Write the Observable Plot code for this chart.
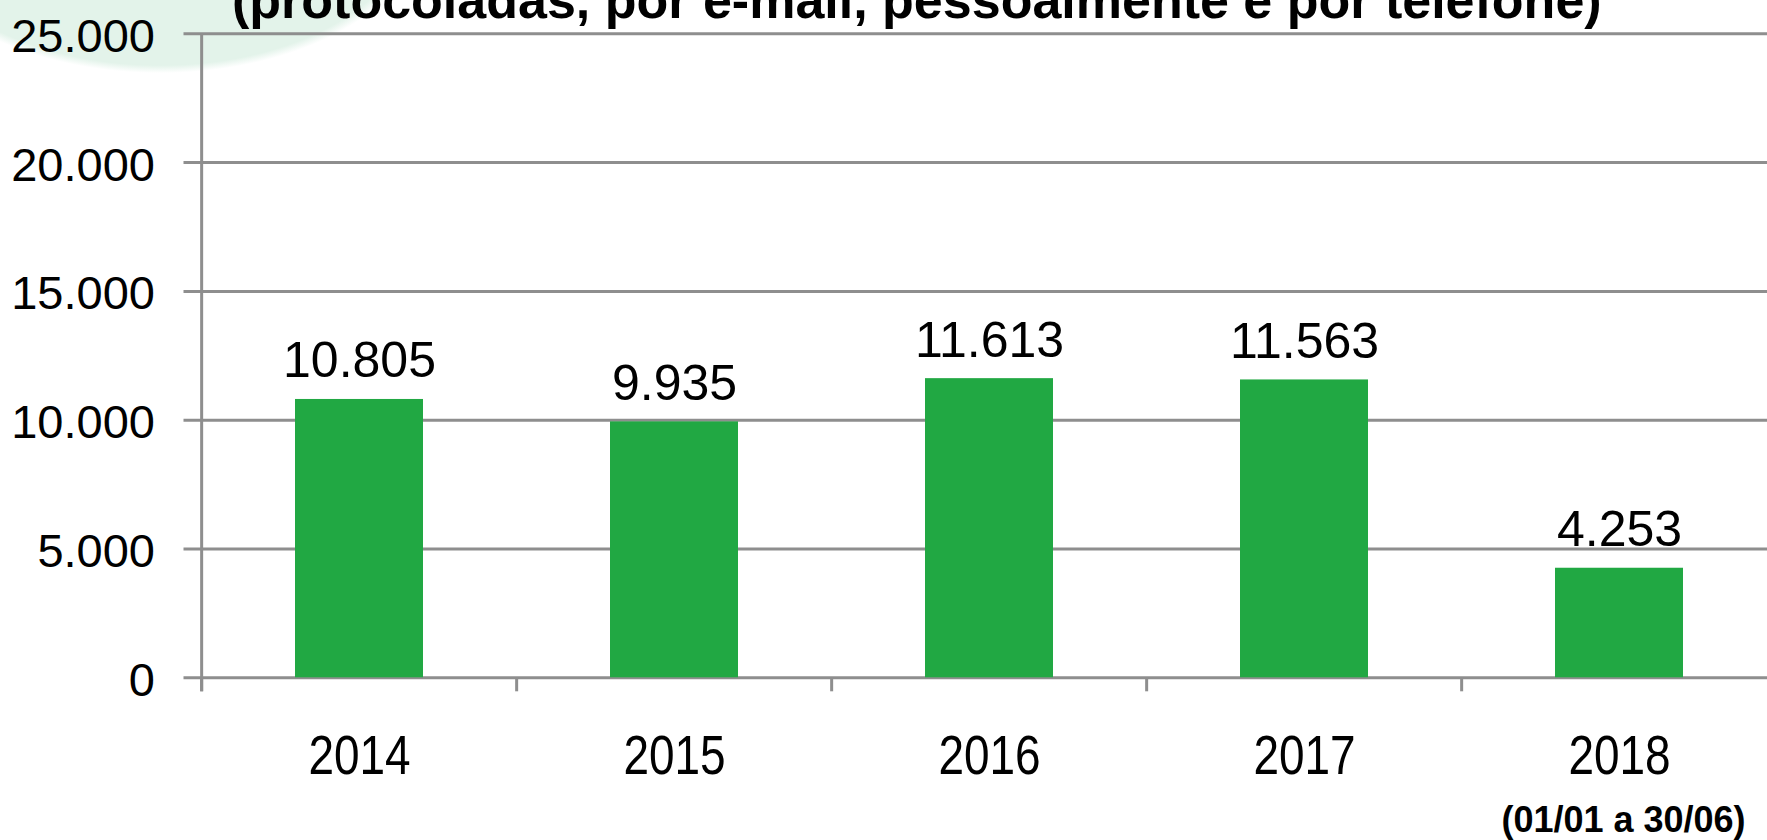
<!DOCTYPE html>
<html><head><meta charset="utf-8">
<script src="https://cdn.jsdelivr.net/npm/d3@7"></script>
<script src="https://cdn.jsdelivr.net/npm/@observablehq/plot@0.6"></script>
<style>
html,body{margin:0;padding:0;background:#fff;overflow:hidden;}
#chart{position:relative;width:1767px;height:840px;overflow:hidden;
 background: radial-gradient(265px 155px at 160px -82px, #e3f3ea 0%, #e3f3ea 95%, rgba(227,243,234,0) 100%), #fff;}
#chart svg{display:block;}
</style></head>
<body><div id="chart"></div>
<script>
const years = ["2014", "2015", "2016", "2017", "2018"];
const values = [10805, 9935, 11613, 11563, 4253];
const yTicks = [0, 5000, 10000, 15000, 20000, 25000];
const titleText = "(protocoladas, por e-mail, pessoalmente e por telefone)";
const captionText = "(01/01 a 30/06)";

const data = years.map((year, i) => ({year, value: values[i]}));
const fmt = d3.formatLocale({decimal: ",", thousands: ".", grouping: [3], currency: ["R$", ""]}).format(",d");

const W = 1767, H = 840;
const mL = 199.5, mR = -11, mT = 33.3, mB = 162.7;
const step = (W - mR - mL) / years.length;
const gray = "#8e8e8e";
const green = "#21a843";
const font = "'Liberation Sans', Arial, sans-serif";

const chart = Plot.plot({
  width: W, height: H,
  marginLeft: mL, marginRight: mR, marginTop: mT, marginBottom: mB,
  style: {background: "transparent", fontFamily: font, color: "black", overflow: "visible"},
  x: {type: "band", domain: years, paddingInner: 0.594, paddingOuter: 0.297, label: null},
  y: {domain: [0, 25000], label: null},
  marks: [
    Plot.ruleY(yTicks, {y: d => d, stroke: gray, strokeWidth: 3, insetLeft: -16}),
    Plot.ruleX([years[0]], {x: d => d, dx: -step / 2, y1: 25000, y2: 0, insetBottom: -14, stroke: gray, strokeWidth: 3}),
    Plot.ruleX(years, {x: d => d, dx: -step / 2, y1: 0, y2: 0, insetBottom: -14, stroke: gray, strokeWidth: 3}),
    Plot.barY(data, {x: "year", y: "value", fill: green}),
    Plot.text(data, {x: "year", y: "value", text: d => fmt(d.value), dy: -22, lineAnchor: "bottom", fontSize: 50, fill: "black", fontFamily: font, ariaLabel: "value-labels"}),
    Plot.axisY({ticks: yTicks, tickSize: 0, tickPadding: 45, tickFormat: fmt, fontSize: 47, fill: "black", dy: 3, fontFamily: font}),
    Plot.axisX({tickSize: 0, tickPadding: 56, fontSize: 56, fill: "black", fontFamily: font}),
    Plot.text([titleText], {frameAnchor: "top-left", textAnchor: "start", dx: 32, dy: 17 - mT, lineAnchor: "bottom", fontSize: 52, fontWeight: "bold", fill: "black", fontFamily: font}),
    Plot.text([captionText], {x: () => years[years.length - 1], frameAnchor: "bottom", dx: 4, dy: 154, lineAnchor: "bottom", fontSize: 36, fontWeight: "bold", fill: "black", fontFamily: font})
  ]
});
document.getElementById("chart").appendChild(chart);

// the reference uses a condensed face: narrow the glyphs of these labels
function squeeze(selector, ratio) {
  chart.querySelectorAll(selector).forEach(t => {
    const w = t.getComputedTextLength();
    t.setAttribute("textLength", (w * ratio).toFixed(1));
    t.setAttribute("lengthAdjust", "spacingAndGlyphs");
  });
}
squeeze('g[aria-label="x-axis tick label"] text', 0.82);
squeeze('g[aria-label="value-labels"] text', 0.92);
</script>
</body></html>
